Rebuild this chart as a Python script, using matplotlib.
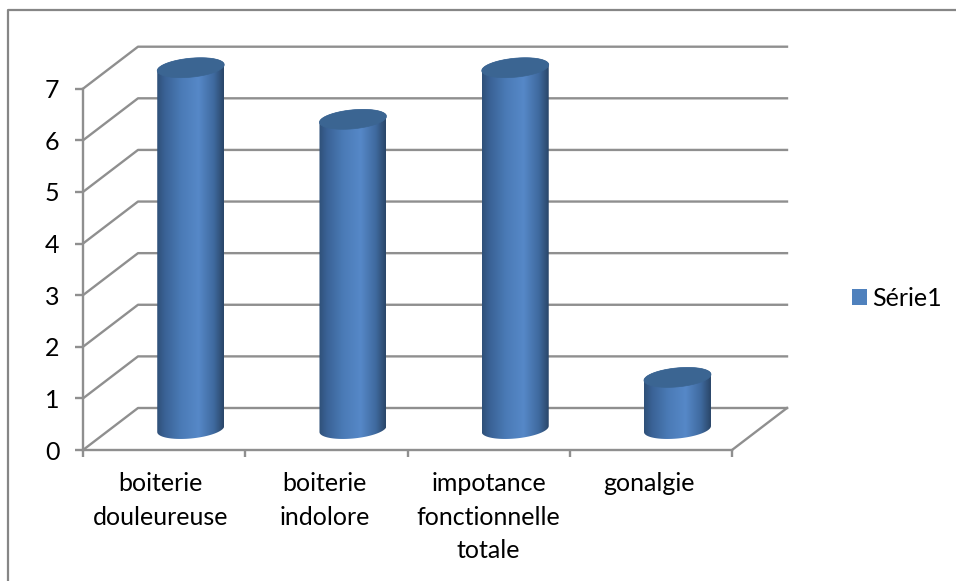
import matplotlib
matplotlib.use("Agg")
import matplotlib.pyplot as plt
import numpy as np
from matplotlib.colors import LinearSegmentedColormap
from matplotlib.lines import Line2D
from matplotlib.patches import Patch, Polygon

plt.rcParams['font.family'] = ['Lato', 'DejaVu Sans']

categories = ['boiterie\ndouleureuse', 'boiterie\nindolore', 'impotance\nfonctionnelle\ntotale', 'gonalgie']
values = [7, 6, 7, 1]
series_name = 'Série1'
y_ticks = [0, 1, 2, 3, 4, 5, 6, 7]

W, H = 956, 581
GRAY = '#8f8f8f'

fig = plt.figure(figsize=(W / 100, H / 100), dpi=100)
# front wall of the 3D box
left, right, bottom, top = 83, 732, 450, 88.7
ax = fig.add_axes([left / W, 1 - bottom / H, (right - left) / W, (bottom - top) / H])
ax.set_xlim(0, 4)
ax.set_ylim(0, 7)

# depth of the box, in data units
px_x = (right - left) / 4
px_y = (bottom - top) / 7
dx = 55 / px_x
dy = 42 / px_y

# back wall lines and floor
for v in y_ticks:
    ax.plot([0, dx, 4 + dx], [v, v + dy, v + dy], color=GRAY, lw=1.7, clip_on=False, zorder=1)
ax.plot([4, 4 + dx], [0, dy], color=GRAY, lw=1.7, clip_on=False, zorder=1)

# cylinders: horizontal gradient clipped to the outline
cmap = LinearSegmentedColormap.from_list('cyl', [
    (0.0, '#2f5078'), (0.12, '#3a6296'), (0.35, '#4a7ab5'),
    (0.62, '#5688c8'), (0.85, '#3f6a9f'), (1.0, '#2a4668')])
grad = np.linspace(0, 1, 256).reshape(1, -1)
a = 33.5 / px_x
b = 9.5 / px_y
tilt = 3 / px_y
base = dy / 2
t = np.linspace(0, np.pi, 60)

for i, v in enumerate(values):
    cx = i + 0.5 + 0.164
    # top half at the cap, bottom half at the floor
    x_top = cx + a * np.cos(t)
    y_top = base + v + b * np.sin(t) + tilt * np.cos(t)
    x_bot = cx + a * np.cos(t + np.pi)
    y_bot = base + b * np.sin(t + np.pi) + tilt * np.cos(t + np.pi)
    outline = Polygon(np.column_stack([np.r_[x_bot, x_top], np.r_[y_bot, y_top]]),
                      closed=True, transform=ax.transData, fc='none', ec='none', clip_on=False)
    ax.add_patch(outline)
    im = ax.imshow(grad, cmap=cmap, aspect='auto', zorder=2,
                   extent=[cx - a, cx + a, base - 1, base + v + 1])
    # the cylinders stick out above the front wall, so clip to the figure and the outline only
    im.set_clip_box(fig.bbox)
    im.set_clip_path(outline)
    # cap
    t2 = np.linspace(0, 2 * np.pi, 120)
    cap = Polygon(np.column_stack([cx + a * np.cos(t2), base + v + b * np.sin(t2) + tilt * np.cos(t2)]),
                  closed=True, fc='#3b6592', ec='#3b6592', lw=0.5, zorder=3, clip_on=False)
    ax.add_patch(cap)

ax.set_xlim(0, 4)
ax.set_ylim(0, 7)

for s in ['top', 'right']:
    ax.spines[s].set_visible(False)
for s in ['left', 'bottom']:
    ax.spines[s].set_color(GRAY)
    ax.spines[s].set_linewidth(1.7)
    ax.spines[s].set_zorder(4)

ax.set_yticks(y_ticks)
ax.tick_params(axis='y', length=6, width=1.7, color=GRAY, labelsize=18, pad=11)
ax.set_xticks([0, 1, 2, 3, 4])
ax.set_xticklabels([])
ax.set_xticks([0.48, 1.49, 2.5, 3.49], minor=True)
ax.set_xticklabels(categories, minor=True, fontsize=18, linespacing=1.55, va='top')
ax.tick_params(axis='x', which='major', length=5, width=1.7, color=GRAY)
ax.tick_params(axis='x', which='minor', length=0, pad=16)

# legend on the right
fig.legend(handles=[Patch(fc='#4f81bd', ec='none', label=series_name)],
           loc='center left', bbox_to_anchor=(852 / W, 1 - 298 / H), frameon=False,
           fontsize=18, handlelength=0.6, handleheight=0.6, handletextpad=0.2,
           borderpad=0, borderaxespad=0)

# outer chart frame, open at the bottom
fig.add_artist(Line2D([7.5 / W, 7.5 / W, 1], [0, 1 - 10 / H, 1 - 10 / H],
                      color='#868686', lw=1.6, transform=fig.transFigure))

fig.savefig('out.png', dpi=100)
